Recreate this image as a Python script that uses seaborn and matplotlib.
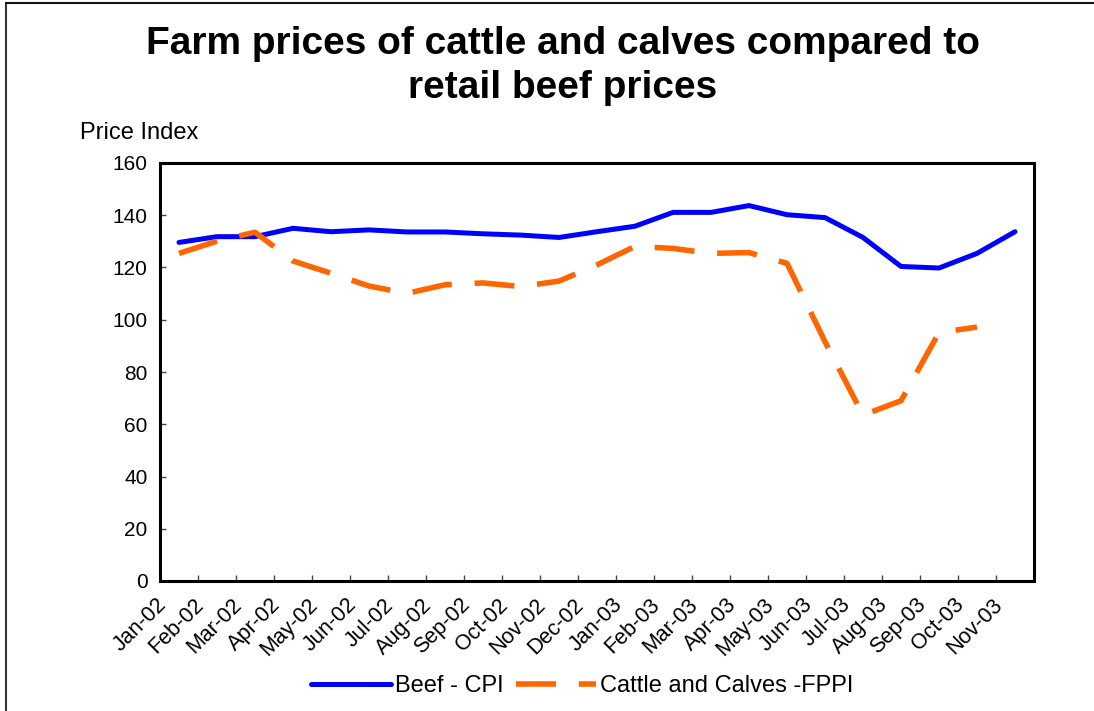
import matplotlib
matplotlib.use("Agg")
import matplotlib.pyplot as plt
import matplotlib.transforms as mtransforms
from matplotlib.lines import Line2D
from matplotlib.ticker import FixedLocator, MultipleLocator
import numpy as np
import pandas as pd
import seaborn as sns

months = ['Jan-02', 'Feb-02', 'Mar-02', 'Apr-02', 'May-02', 'Jun-02', 'Jul-02',
          'Aug-02', 'Sep-02', 'Oct-02', 'Nov-02', 'Dec-02', 'Jan-03', 'Feb-03',
          'Mar-03', 'Apr-03', 'May-03', 'Jun-03', 'Jul-03', 'Aug-03', 'Sep-03',
          'Oct-03', 'Nov-03']
beef_cpi = [129.6, 131.8, 131.8, 135.0, 133.7, 134.4, 133.6, 133.6, 132.9, 132.4,
            131.5, 133.7, 135.8, 141.1, 141.1, 143.7, 140.2, 139.1, 131.5, 120.4,
            119.8, 125.4, 133.7]
cattle_fppi = [125.4, 130.1, 133.5, 122.5, 117.8, 112.9, 110.1, 113.4, 114.1, 112.7,
               114.8, 121.0, 128.1, 127.3, 125.4, 125.7, 121.6, 91.6, 63.5, 69.0,
               95.1, 97.2, np.nan]

df = pd.DataFrame({'pos': np.arange(len(months)),
                   'Beef - CPI': beef_cpi,
                   'Cattle and Calves -FPPI': cattle_fppi})

sns.set_style("white")
plt.rcParams['font.family'] = ['Liberation Sans', 'DejaVu Sans']
plt.rcParams['text.color'] = 'black'
plt.rcParams['xtick.color'] = 'black'
plt.rcParams['ytick.color'] = 'black'
plt.rcParams['axes.labelcolor'] = 'black'

fig = plt.figure(figsize=(10.94, 7.11), dpi=100)
ax = fig.add_axes([160 / 1094, 1 - 581 / 711, 874 / 1094, 418 / 711])

sns.lineplot(data=df, x='pos', y='Beef - CPI', ax=ax, color='#0000FF',
             linewidth=3.6, label='Beef - CPI')
sns.lineplot(data=df, x='pos', y='Cattle and Calves -FPPI', ax=ax, color='#FF6600',
             linewidth=4.0, label='Cattle and Calves -FPPI')
ax.lines[1].set_dashes([7.2, 4.1])
ax.lines[1].set_dash_capstyle('butt')

ax.set_xlim(-0.5, len(months) - 0.5)
ax.set_ylim(0, 160)
ax.yaxis.set_major_locator(MultipleLocator(20))
ax.set_xlabel('')
ax.set_ylabel('')

# category labels at centers, tick marks at boundaries
ax.set_xticks(np.arange(len(months)))
ax.set_xticklabels(months, rotation=45, ha='right', va='center',
                   rotation_mode='anchor', fontsize=15.5)
ax.xaxis.set_minor_locator(FixedLocator(np.arange(0.5, len(months) - 0.5, 1)))
ax.tick_params(axis='x', which='major', length=0, pad=15)
ax.tick_params(axis='x', which='minor', direction='in', length=4, width=1,
               color='#444444', bottom=True)
ax.tick_params(axis='y', direction='in', length=4, width=1, color='#444444',
               left=True, labelsize=15, pad=9)
offset = mtransforms.ScaledTranslation(-16 / 100, 0, fig.dpi_scale_trans)
for lbl in ax.get_xticklabels():
    lbl.set_transform(lbl.get_transform() + offset)

for sp in ax.spines.values():
    sp.set_color('black')
    sp.set_linewidth(2.2)

ax.get_legend().remove()
handles, labels = ax.get_legend_handles_labels()
fig.legend(handles, labels, loc='center', bbox_to_anchor=(582 / 1094, 1 - 686 / 711),
           ncol=2, frameon=False, fontsize=17, handlelength=3.4, columnspacing=0.55,
           handletextpad=0.15)

fig.text(563 / 1094, 1 - 66 / 711,
         'Farm prices of cattle and calves compared to\nretail beef prices',
         ha='center', va='center', fontsize=28, fontweight='bold', linespacing=1.27)
fig.text(80 / 1094, 1 - 133 / 711, 'Price Index', ha='left', va='center', fontsize=17)

# partial outer frame (left and top edges)
fig.add_artist(Line2D([5.5 / 1094, 5.5 / 1094], [0, 1 - 3 / 711],
                      transform=fig.transFigure, color='#333333', linewidth=1.5))
fig.add_artist(Line2D([5.5 / 1094, 1], [1 - 3 / 711, 1 - 3 / 711],
                      transform=fig.transFigure, color='#111111', linewidth=1.5))

fig.savefig('out.png', dpi=100)
